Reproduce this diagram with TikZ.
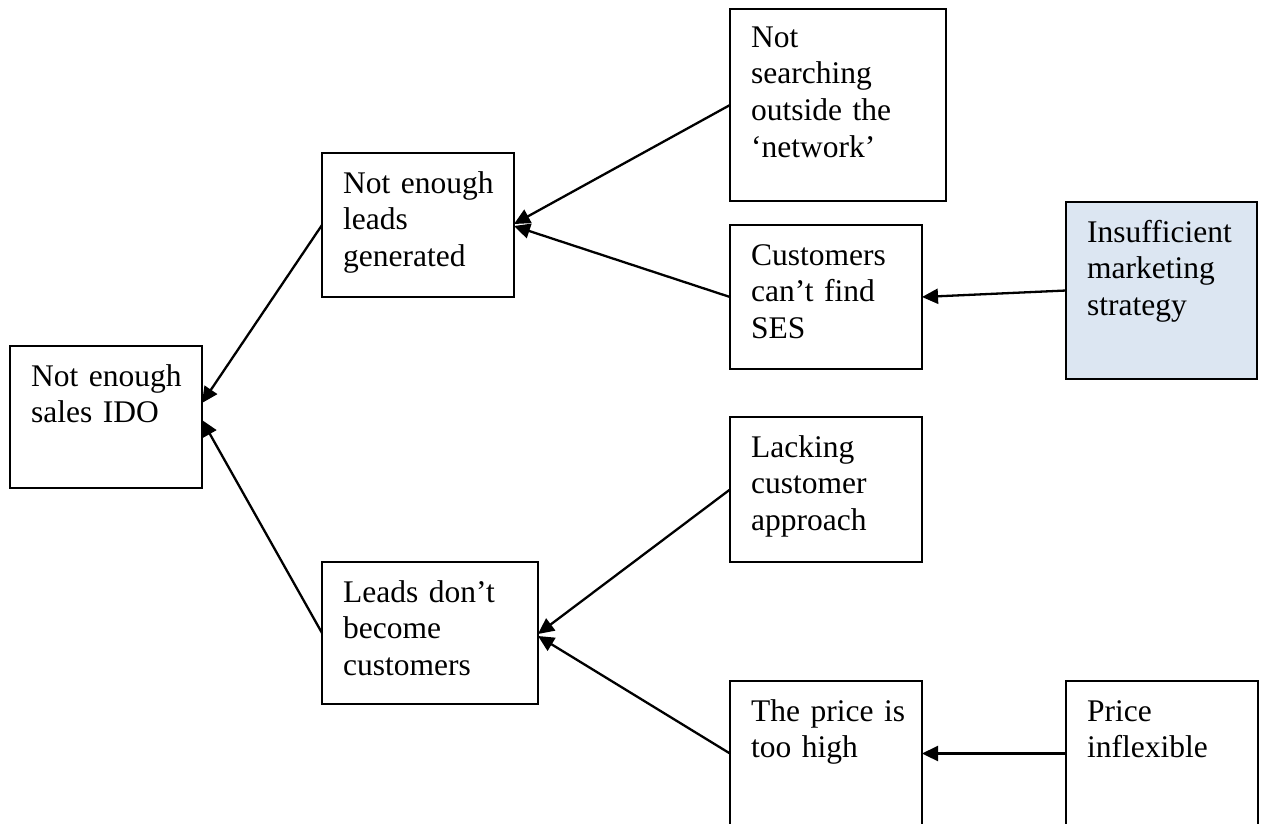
\documentclass[tikz,border=0pt]{standalone}
\usepackage{fontspec}
\setmainfont{Liberation Serif}
\usetikzlibrary{arrows.meta}
\definecolor{softblue}{HTML}{DCE6F2}
\begin{document}
\begin{tikzpicture}[x=1pt, y=-1pt,
  box/.style={draw, line width=2.2pt, rectangle, inner sep=0pt, outer sep=0pt, anchor=north west},
  txt/.style={anchor=base west, inner sep=0pt, text width=210pt, align=left,
              font=\fontsize{31.5}{36.7}\selectfont},
  arr/.style={line width=2.3pt, -{Triangle[length=16pt, width=15pt]}}]
\useasboundingbox (0,0) rectangle (1264,823);

% boxes: top-left corner, width, height
\node[box, minimum width=192pt, minimum height=142pt] (b1) at (10,346) {};
\node[box, minimum width=192pt, minimum height=144pt] (b2) at (322,153) {};
\node[box, minimum width=216pt, minimum height=142pt] (b3) at (322,562) {};
\node[box, minimum width=216pt, minimum height=192pt] (b4) at (730,9) {};
\node[box, minimum width=192pt, minimum height=144pt] (b5) at (730,225) {};
\node[box, fill=softblue, minimum width=191pt, minimum height=177pt] (b6) at (1066,202) {};
\node[box, minimum width=192pt, minimum height=145pt] (b7) at (730,417) {};
\node[box, minimum width=192pt, minimum height=145pt] (b8) at (730,681) {};
\node[box, minimum width=192pt, minimum height=145pt] (b9) at (1066,681) {};

% box texts
\node[txt] (t1) at (31,386) {Not enough\\sales IDO};
\node[txt] (t2) at (343,193) {Not enough\\leads\\generated};
\node[txt] (t3) at (343,602) {Leads don’t\\become\\customers};
\node[txt] (t4) at (751,47) {Not\\searching\\outside the\\‘network’};
\node[txt] (t5) at (751,265) {Customers\\can’t find\\SES};
\node[txt] (t6) at (1087,242) {Insufficient\\marketing\\strategy};
\node[txt] (t7) at (751,457) {Lacking\\customer\\approach};
\node[txt] (t8) at (751,721) {The price is\\too high};
\node[txt] (t9) at (1087,721) {Price\\inflexible};

% cause arrows
\draw[arr] (b2.west) -- ([yshift=14pt]b1.east);
\draw[arr] (b3.west) -- ([yshift=-3pt]b1.east);
\draw[arr] (b4.west) -- ([yshift=1pt]b2.east);
\draw[arr] (b5.west) -- ([yshift=-1pt]b2.east);
\draw[arr] (b6.west) -- (b5.east);
\draw[arr] (b7.west) -- ([yshift=-1pt]b3.east);
\draw[arr] (b8.west) -- ([yshift=-3pt]b3.east);
\draw[arr] (b9.west) -- (b8.east);
\end{tikzpicture}
\end{document}
